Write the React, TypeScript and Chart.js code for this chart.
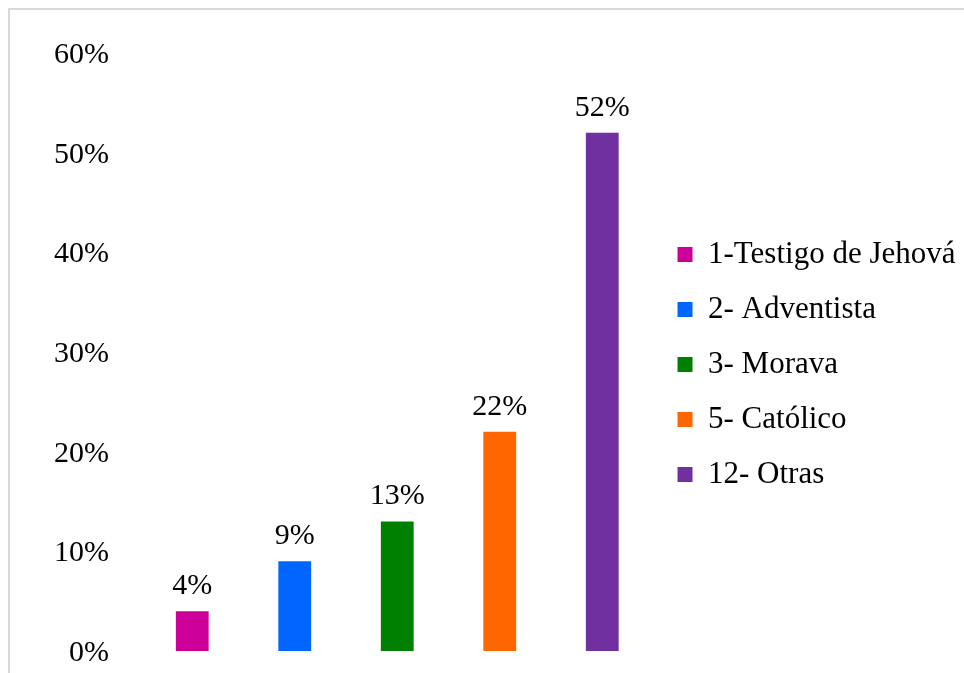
import React, { useEffect, useRef } from "react";
import { Chart, registerables } from "chart.js";

Chart.register(...registerables);

const categories = ["1-Testigo de Jehová", "2- Adventista", "3- Morava", "5- Católico", "12- Otras"];
const values = [4, 9, 13, 22, 52];
const colors = ["#CC0099", "#0066FF", "#008000", "#FF6600", "#7030A0"];
const yTicks = [0, 10, 20, 30, 40, 50, 60];

const FONT = "'Liberation Serif', 'Times New Roman', serif";

const valueLabels = {
  id: "valueLabels",
  afterDatasetsDraw(chart: any) {
    const ctx = chart.ctx;
    const meta = chart.getDatasetMeta(0);
    ctx.save();
    ctx.font = `30px ${FONT}`;
    ctx.fillStyle = "#000";
    ctx.textAlign = "center";
    ctx.textBaseline = "alphabetic";
    meta.data.forEach((bar: any, i: number) => {
      ctx.fillText(values[i] + "%", bar.x, bar.y - 17);
    });
    ctx.restore();
  },
};

export default function App() {
  const ref = useRef<HTMLCanvasElement | null>(null);
  useEffect(() => {
    if (!ref.current) return;
    const chart = new Chart(ref.current, {
      type: "bar",
      data: {
        labels: categories,
        datasets: [
          {
            data: values,
            backgroundColor: colors,
            borderWidth: 0,
            categoryPercentage: 0.4,
            barPercentage: 0.8,
          },
        ],
      },
      options: {
        animation: false,
        responsive: true,
        maintainAspectRatio: false,
        layout: { padding: { left: 40, top: 43, right: -1.5, bottom: 22 } },
        plugins: {
          tooltip: { enabled: false },
          legend: {
            position: "right",
            maxWidth: 500,
            title: {
              display: true,
              text: " ",
              color: "#000",
              font: { family: FONT, size: 10 },
              padding: { top: 13, bottom: 0 },
            },
            labels: {
              font: { family: FONT, size: 31 },
              color: "#000",
              boxWidth: 15,
              boxHeight: 15,
              padding: 24,
              generateLabels: () =>
                categories.map((c, i) => ({
                  text: c,
                  fillStyle: colors[i],
                  strokeStyle: colors[i],
                  fontColor: "#000",
                  lineWidth: 0,
                  hidden: false,
                  index: i,
                })),
            },
          },
        },
        scales: {
          x: { display: false },
          y: {
            min: 0,
            max: 60,
            border: { display: false },
            grid: { display: false, drawTicks: true, tickLength: 28 },
            afterBuildTicks: (scale: any) => {
              scale.ticks = yTicks.map((v) => ({ value: v }));
            },
            ticks: {
              padding: 4,
              labelOffset: 2,
              color: "#000",
              font: { family: FONT, size: 30 },
              callback: (v: any) => v + "%",
            },
          },
        },
      },
      plugins: [valueLabels],
    });
    return () => chart.destroy();
  }, []);
  return (
    <div
      style={{
        position: "fixed",
        left: 8,
        top: 8,
        width: 956,
        height: 665,
        boxSizing: "border-box",
        borderTop: "2px solid #d9d9d9",
        borderLeft: "2px solid #d9d9d9",
        background: "#fff",
        overflow: "hidden",
      }}
    >
      <div style={{ position: "relative", width: 954, height: 663 }}>
        <canvas ref={ref} />
      </div>
    </div>
  );
}
